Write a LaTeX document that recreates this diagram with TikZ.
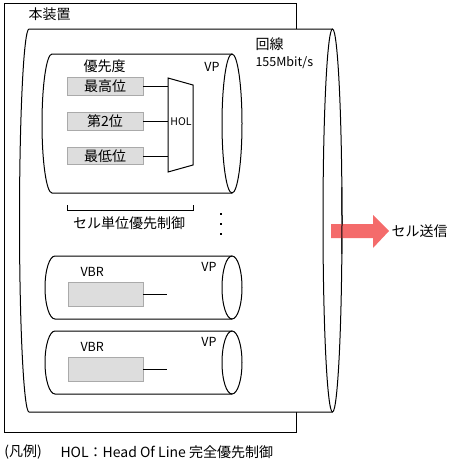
\documentclass[tikz,border=0pt]{standalone}
\usepackage{fontspec}
\setmainfont{Noto Sans CJK JP}
\definecolor{arrowred}{HTML}{F46B6B}
\definecolor{boxfill}{HTML}{DDDDDD}
\definecolor{boxline}{HTML}{AAAAAA}
\newcommand{\mycyl}[5]{% xl xr yc h rx
  \fill[white] (#2,#3-#4) -- (#1,#3-#4)
    arc[start angle=90,end angle=270,x radius=#5pt,y radius=#4pt]
    -- (#2,#3+#4)
    arc[start angle=-90,end angle=90,x radius=#5pt,y radius=#4pt] -- cycle;
  \draw (#2,#3-#4) -- (#1,#3-#4)
    arc[start angle=90,end angle=270,x radius=#5pt,y radius=#4pt]
    -- (#2,#3+#4);
  \draw (#2,#3) ellipse[x radius=#5pt, y radius=#4pt];
}
\begin{document}
\begin{tikzpicture}[x=1pt,y=-1pt,line width=1pt,
  txt/.style={inner sep=0pt,font=\fontsize{14}{16}\selectfont},
  lat/.style={inner sep=0pt,font=\fontsize{12.5}{14}\selectfont},
  qbox/.style={draw=boxline,fill=boxfill,line width=0.8pt,inner sep=0pt,
    minimum width=76pt,minimum height=17.5pt,font=\fontsize{14}{16}\selectfont},
  vbox/.style={draw=boxline,fill=boxfill,line width=0.8pt,inner sep=0pt,
    minimum width=75pt,minimum height=24pt},
  conn/.style={line width=1pt}]
\useasboundingbox (0,0) rectangle (470,474);
% outer device box
\draw (4,3) rectangle (296,432);
\node[txt,anchor=west] (dev) at (28,14) {本装置};
% big line cylinder
\mycyl{29}{332.5}{220.5}{191.5}{9.5}
\node[txt,anchor=west] (line) at (255,44) {回線};
\node[lat,anchor=west] (rate) at (255,63) {155Mbit/s};
% VP cylinder 1
\mycyl{52}{232}{123.5}{69.5}{10}
\node[txt,anchor=west] (prio) at (83,66) {優先度};
\node[lat,anchor=center] (vp1) at (212,67) {VP};
\node[qbox] (b1) at (105,86.5) {最高位};
\node[qbox] (b2) at (105,121.5) {第2位};
\node[qbox] (b3) at (105,156) {最低位};
% HOL trapezoid
\coordinate (h1) at (168,78);
\coordinate (h2) at (193,85);
\coordinate (h3) at (193,165);
\coordinate (h4) at (168,172);
\draw (h1) -- (h2) -- (h3) -- (h4) -- cycle;
\node[inner sep=0pt,font=\fontsize{10.5}{12}\selectfont] (hol) at (181,121.5) {HOL};
\draw[conn] (b1.east) -- (b1.east -| h1);
\draw[conn] (b2.east) -- (b2.east -| h1);
\draw[conn] (b3.east) -- (b3.east -| h1);
% bracket
\coordinate (k1) at (67,205);
\coordinate (k2) at (193,205);
\draw (k1) -- ++(0,5) -| (k2);
\node[txt] (cellctl) at (129,223) {セル単位優先制御};
% dots
\foreach \yy in {214,224,234} \fill (220,\yy-1) rectangle ++(2.2,2.2);
% VBR cylinder 1
\mycyl{55}{232}{287.5}{31.5}{10}
\node[lat,anchor=west] (vbr1) at (80,272) {VBR};
\node[lat] (vp2) at (209,267) {VP};
\node[vbox] (v1) at (105.5,294) {};
\coordinate (e1) at (167,294);
\draw[conn] (v1.east) -- (e1);
% VBR cylinder 2
\mycyl{55}{232}{362.5}{31.5}{10}
\node[lat,anchor=west] (vbr2) at (80,347) {VBR};
\node[lat] (vp3) at (209,342) {VP};
\node[vbox] (v2) at (105.5,369) {};
\coordinate (e2) at (167,369);
\draw[conn] (v2.east) -- (e2);
% send arrow
\fill[arrowred] (331,224) -- (373,224) -- (373,215) -- (389,231) -- (373,248) -- (373,238) -- (331,238) -- cycle;
\draw (342,220.5) arc[start angle=0,end angle=10,x radius=9.5pt,y radius=191.5pt];
\draw (342,220.5) arc[start angle=0,end angle=-10,x radius=9.5pt,y radius=191.5pt];
\node[txt,anchor=west] (send) at (391,231) {セル送信};
% legend
\node[txt,anchor=west] (leg1) at (4,452) {(凡例)};
\node[txt,anchor=west] (leg2) at (60,452) {HOL：Head Of Line 完全優先制御};
\end{tikzpicture}
\end{document}
